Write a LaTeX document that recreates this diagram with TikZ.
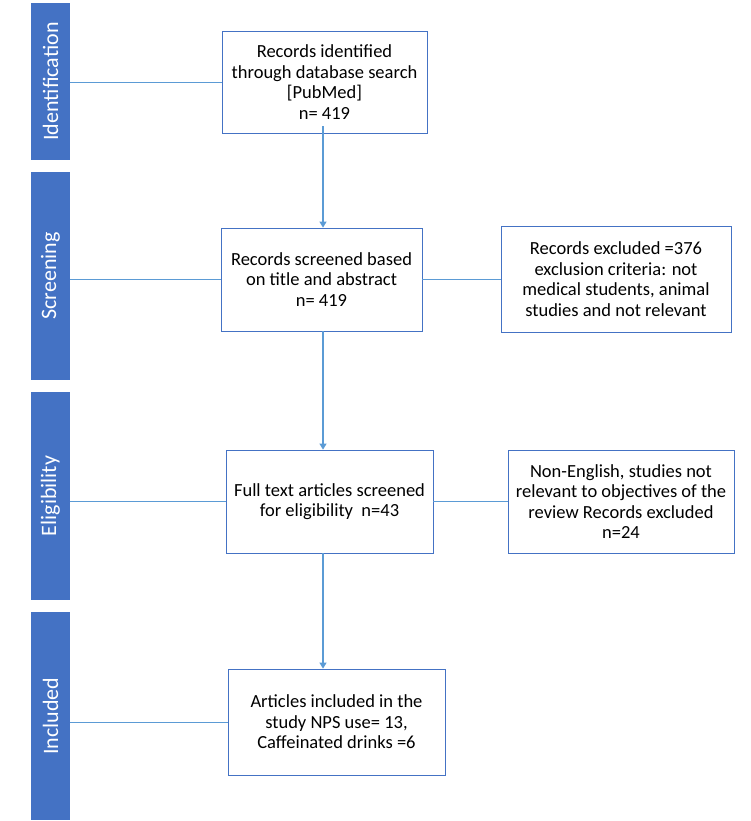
\documentclass[tikz,border=0pt]{standalone}
\usepackage{fontspec}
\setmainfont{Carlito}
\usetikzlibrary{arrows.meta, positioning, calc}
\definecolor{stageblue}{HTML}{4472C4}
\definecolor{linkblue}{HTML}{5B9BD5}

\begin{document}
\begin{tikzpicture}[x=1pt, y=-1pt,
        stage/.style={fill=stageblue, draw=none, minimum height=39pt, rotate=90, text=white, font=\fontsize{22}{24}\selectfont},
        record/.style={draw=stageblue, thick, fill=white, align=center, inner sep=2pt, font=\fontsize{18.5}{20.5}\selectfont},
        link/.style={linkblue, thick},
        flow/.style={linkblue, very thick, -{Triangle[width=7pt,length=6pt]}}]
        \useasboundingbox (0,0) rectangle (750,821);

        % phases on the left
        \node[stage, minimum width=157pt] (Ident) at (50.5,81.5) {Identification};
        \node[stage, minimum width=208pt] (Screen) at (50.5,276) {Screening};
        \node[stage, minimum width=208pt] (Elig) at (50.5,496) {Eligibility};
        \node[stage, minimum width=208pt] (Incl) at (50.5,716) {Included};

        % record boxes
        \node[record, minimum width=205pt, minimum height=102pt] (R1) at (324.5,82) {Records identified\\through database search\\{[}PubMed{]}\\n= 419};
        \node[record, minimum width=201pt, minimum height=103pt] (R2) at (321.5,279.5) {Records screened based\\on title and abstract\\n= 419};
        \node[record, minimum width=230pt, minimum height=106pt] (X1) at (616,279) {Records excluded =376\\exclusion criteria: not\\medical students, animal\\studies and not relevant};
        \node[record, minimum width=207pt, minimum height=103pt] (R3) at (329.5,501.5) {Full text articles screened\\for eligibility\ \ n=43};
        \node[record, minimum width=226pt, minimum height=103pt] (X2) at (621,501.5) {Non-English, studies not\\relevant to objectives of the\\review Records excluded\\n=24};
        \node[record, minimum width=217pt, minimum height=106pt] (R4) at (336.5,722) {Articles included in the\\study NPS use= 13,\\Caffeinated drinks =6};

        \draw[link] (Ident.south |- R1.west) -- (R1.west);
        \draw[link] (Screen.south |- R2.west) -- (R2.west);
        \draw[link] (Elig.south |- R3.west) -- (R3.west);
        \draw[link] (Incl.south |- R4.west) -- (R4.west);
        \draw[link] (R2.east) -- (X1.west |- R2.east);
        \draw[link] (R3.east) -- (X2.west |- R3.east);

        \draw[flow] ([xshift=-1.5pt, yshift=7pt]R1.south) -- ([xshift=-1.5pt]R1.south |- R2.north);
        \draw[flow] ([xshift=1.5pt]R2.south) -- ([xshift=1.5pt]R2.south |- R3.north);
        \draw[flow] ([xshift=-6.5pt]R3.south) -- ([xshift=-6.5pt]R3.south |- R4.north);
    \end{tikzpicture}
\end{document}
